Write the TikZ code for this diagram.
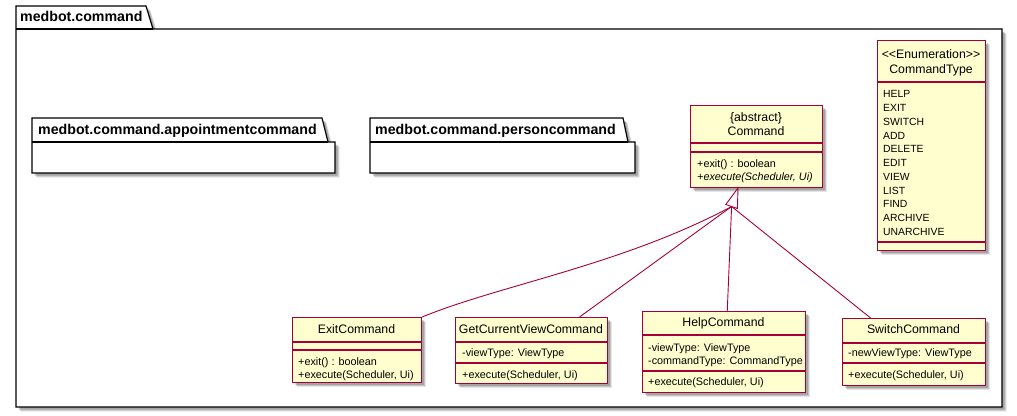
\documentclass[tikz,border=0pt]{standalone}
\usepackage{fontspec}
\setmainfont{Liberation Sans}
\usetikzlibrary{shadows,calc}
\definecolor{umlfill}{HTML}{FEFECE}
\definecolor{umlline}{HTML}{A80036}
\begin{document}
\begin{tikzpicture}[x=1pt,y=-1pt,
  shad/.style={
    general shadow={shadow xshift=4.5pt,shadow yshift=-4.5pt,fill=black,opacity=0.10},
    general shadow={shadow xshift=3.5pt,shadow yshift=-3.5pt,fill=black,opacity=0.14},
    general shadow={shadow xshift=2.5pt,shadow yshift=-2.5pt,fill=black,opacity=0.16}},
  cls/.style={draw=umlline, fill=umlfill, line width=1.1pt, rectangle, inner sep=0pt, anchor=north west, shad},
  sepln/.style={draw=umlline, line width=1.1pt},
  pkg/.style={draw=black, fill=white, line width=1.2pt, shad},
  pkgtxt/.style={font=\fontsize{14.2}{16}\selectfont\bfseries, anchor=west, inner sep=0pt, text height=.72em, text depth=0pt},
  nm/.style={font=\fontsize{12.3}{14}\selectfont, anchor=center, inner sep=0pt, text height=.72em, text depth=0pt},
  mem/.style={font=\fontsize{10.8}{13}\selectfont, anchor=west, inner sep=0pt, text height=.72em, text depth=0pt},
  enm/.style={font=\fontsize{10.4}{12}\selectfont, anchor=west, inner sep=0pt, text height=.72em, text depth=0pt},
  gen/.style={draw=umlline, line width=0.9pt}
]
\useasboundingbox (0,0) rectangle (1017,415);

% outer package
\path[pkg] (16,6) -- (146,6) -- (153,29) -- (1002,29) -- (1002,407) -- (16,407) -- cycle;
\draw[black, line width=1.2pt] (16,29) -- (153,29);
\node[pkgtxt] (pkgmain) at (20,18) {medbot.command};

% appointment package
\path[pkg] (32,118) -- (322,118) -- (328,142) -- (335,142) -- (335,173) -- (32,173) -- cycle;
\draw[black, line width=1.2pt] (32,142) -- (328,142);
\node[pkgtxt] (pkgappt) at (38,131) {medbot.command.appointmentcommand};

% person package
\path[pkg] (370,118) -- (623,118) -- (628,142) -- (635,142) -- (635,173) -- (370,173) -- cycle;
\draw[black, line width=1.2pt] (370,142) -- (628,142);
\node[pkgtxt] (pkgperson) at (375,131) {medbot.command.personcommand};

% Command
\node[cls, minimum width=132pt, minimum height=82pt] (command) at (690,105) {};
\draw[sepln] (690,143) -- (822,143);
\draw[sepln] (690,152) -- (822,152);
\node[nm] (cmdster) at (756,118) {\{abstract\}};
\node[nm] (cmdname) at (756,132) {Command};
\node[mem] (cmdm1) at (697,164) {+exit() : boolean};
\node[mem] (cmdm2) at (697,177) {\itshape +execute(Scheduler, Ui)};

% CommandType
\node[cls, minimum width=108pt, minimum height=210pt] (ctype) at (877,40) {};
\draw[sepln] (877,82) -- (985,82);
\draw[sepln] (877,242) -- (985,242);
\node[nm] (ctster) at (931,55) {<\kern0pt<Enumeration>\kern0pt>};
\node[nm] (ctname) at (931,70) {CommandType};
\foreach \t [count=\i from 0] in {HELP,EXIT,SWITCH,ADD,DELETE,EDIT,VIEW,LIST,FIND,ARCHIVE,UNARCHIVE}{
  \node[enm] (ct\i) at (883,94.3+13.74*\i) {\t};
}

% ExitCommand
\node[cls, minimum width=129pt, minimum height=65pt] (exit) at (292,317) {};
\draw[sepln] (292,342) -- (421,342);
\draw[sepln] (292,350) -- (421,350);
\node[nm] (exitname) at (356.5,330) {ExitCommand};
\node[mem] (exitm1) at (298,362) {+exit() : boolean};
\node[mem] (exitm2) at (298,375) {+execute(Scheduler, Ui)};

% GetCurrentViewCommand
\node[cls, minimum width=152pt, minimum height=66pt] (gcv) at (455,317) {};
\draw[sepln] (455,342) -- (607,342);
\draw[sepln] (455,363) -- (607,363);
\node[nm] (gcvname) at (531,330) {GetCurrentViewCommand};
\node[mem] (gcvf1) at (462,353) {-viewType: ViewType};
\node[mem] (gcvm1) at (462,375) {+execute(Scheduler, Ui)};

% HelpCommand
\node[cls, minimum width=163pt, minimum height=81pt] (help) at (642,311) {};
\draw[sepln] (642,335) -- (805,335);
\draw[sepln] (642,371) -- (805,371);
\node[nm] (helpname) at (723.5,323) {HelpCommand};
\node[mem] (helpf1) at (648,348) {-viewType: ViewType};
\node[mem] (helpf2) at (648,361) {-commandType: CommandType};
\node[mem] (helpm1) at (648,382) {+execute(Scheduler, Ui)};

% SwitchCommand
\node[cls, minimum width=143pt, minimum height=67pt] (switch) at (842,318) {};
\draw[sepln] (842,343) -- (985,343);
\draw[sepln] (842,363) -- (985,363);
\node[nm] (swname) at (913.5,330) {SwitchCommand};
\node[mem] (swf1) at (848,353) {-newViewType: ViewType};
\node[mem] (swm1) at (848,375) {+execute(Scheduler, Ui)};

% generalization
\coordinate (tip) at (738,188);
\coordinate (base) at (731.6,206.5);
\draw[gen] (base) .. controls (622,265) and (500,285) .. (exit.north east);
\draw[gen] (base) -- ([xshift=48pt]gcv.north);
\draw[gen] (base) -- ([xshift=3.2pt]help.north);
\draw[gen] (base) -- ([xshift=-43.5pt]switch.north);
\draw[gen, fill=white, line join=miter] (tip) -- (725.8,204.5) -- (737.4,208.5) -- cycle;
\end{tikzpicture}
\end{document}
